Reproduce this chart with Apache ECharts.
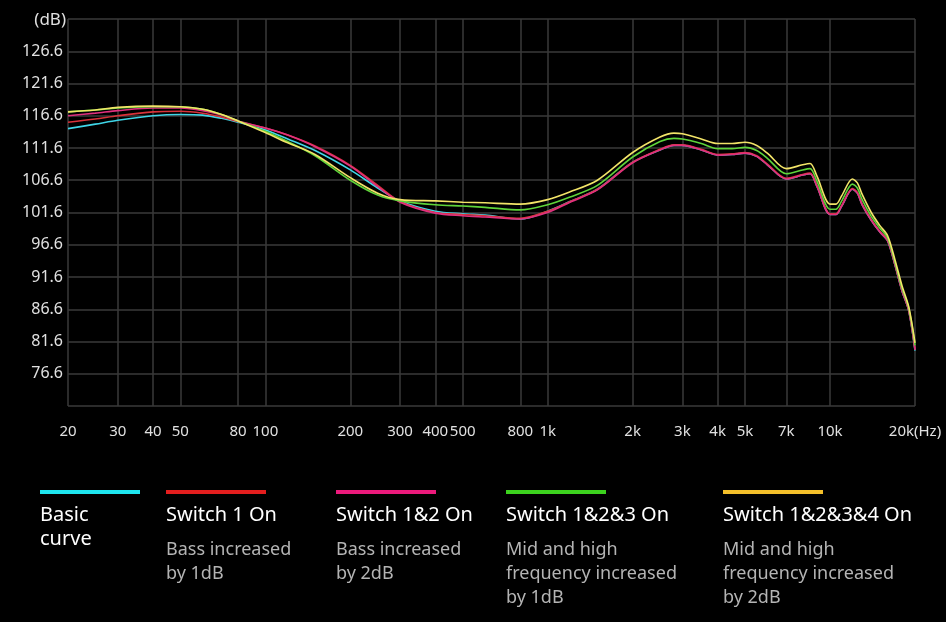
<!DOCTYPE html>
<html><head><meta charset="utf-8">
<script src="https://cdn.jsdelivr.net/npm/echarts@6/dist/echarts.min.js"></script>
<style>html,body{margin:0;padding:0;background:#000;}#c{width:946px;height:622px;}</style>
</head><body><div id="c"></div>
<script>
const freqs = [20,25,30,40,50,60,70,80,100,120,150,200,250,300,400,500,600,800,1000,1200,1500,2000,2500,2800,3000,3500,4000,4500,5000,5500,6000,7000,8000,8500,9000,10000,10500,11000,12000,12500,13000,14000,15000,16000,17000,18000,19000,20000];
const basic = [114.6,115.3,115.9,116.6,116.8,116.7,116.2,115.6,114.4,113.0,111.2,108.2,105.4,103.4,101.8,101.4,101.2,100.6,101.8,103.3,105.2,109.4,111.3,112.0,112.0,111.3,110.5,110.6,110.8,110.3,109.0,106.8,107.4,107.6,105.6,101.3,101.3,102.6,105.2,104.6,102.8,100.4,98.6,97.2,93.4,89.4,86.4,80.2];
const switch1 = [115.6,116.1,116.6,117.2,117.3,117.0,116.4,115.7,114.7,113.6,111.9,108.9,105.8,103.3,101.6,101.3,101.1,100.7,101.8,103.3,105.2,109.4,111.4,112.1,112.1,111.4,110.6,110.7,110.9,110.4,109.1,106.9,107.5,107.7,105.7,101.4,101.4,102.7,105.3,104.7,102.9,100.5,98.7,97.3,93.5,89.5,86.5,80.4];
const switch12 = [116.6,117.0,117.4,117.8,117.8,117.4,116.7,115.8,114.7,113.6,111.8,108.8,105.6,103.2,101.5,101.1,100.9,100.6,101.6,103.2,105.1,109.3,111.3,112.0,112.0,111.3,110.5,110.6,110.8,110.3,109.0,106.8,107.4,107.6,105.6,101.3,101.3,102.6,105.2,104.6,102.8,100.4,98.6,97.2,93.4,89.4,86.4,80.3];
const switch123 = [117.2,117.5,117.8,118.0,118.0,117.6,116.8,115.8,114.2,112.6,110.4,106.6,104.3,103.4,102.8,102.6,102.4,102.0,102.8,104.0,105.8,110.2,112.6,113.1,113.0,112.3,111.5,111.5,111.7,111.2,110.0,107.6,108.2,108.4,106.4,102.1,102.1,103.4,106.0,105.4,103.6,101.0,99.2,97.6,93.8,89.8,86.8,81.0];
const switch1234 = [117.2,117.5,117.9,118.1,118.0,117.6,116.8,115.8,114.0,112.4,110.6,107.0,104.6,103.6,103.4,103.2,103.1,102.9,103.6,104.8,106.6,110.9,113.3,113.9,113.8,113.0,112.3,112.3,112.5,112.0,110.8,108.4,109.0,109.2,107.2,102.9,102.9,104.2,106.8,106.2,104.4,101.6,99.6,98.0,94.2,90.2,87.0,81.4];
const xTicks = [20,30,40,50,80,100,200,300,400,500,800,1000,2000,3000,4000,5000,7000,10000,20000];
const xTickLabels = ['20','30','40','50','80','100','200','300','400','500','800','1k','2k','3k','4k','5k','7k','10k','20k(Hz)'];
const yTickLabels = ['76.6','81.6','86.6','91.6','96.6','101.6','106.6','111.6','116.6','121.6','126.6'];
const seriesNames = ['Basic curve','Switch 1 On','Switch 1&2 On','Switch 1&2&3 On','Switch 1&2&3&4 On'];
const seriesData = [basic, switch1, switch12, switch123, switch1234];
const lineColors = ['#3fd6e8','#d8323a','#e0307e','#5fd43a','#f2e468'];
const legendColors = ['#1ee6f0','#e41e1e','#ec1a7c','#3cd21e','#f4c02a'];
const legendSubs = ['', 'Bass increased\nby 1dB', 'Bass increased\nby 2dB', 'Mid and high\nfrequency increased\nby 1dB', 'Mid and high\nfrequency increased\nby 2dB'];
const legendTitles = ['Basic\ncurve','Switch 1 On','Switch 1&2 On','Switch 1&2&3 On','Switch 1&2&3&4 On'];
const legendX = [40,166,336,506,723];

const font = '"Noto Sans", Roboto, sans-serif';
const chart = echarts.init(document.getElementById('c'));
const graphics = [];
legendTitles.forEach((t,i)=>{
  graphics.push({type:'rect',left:legendX[i],top:490,shape:{width:100,height:4},style:{fill:legendColors[i]}});
  graphics.push({type:'text',left:legendX[i],top:503,style:{text:t,fill:'#fff',font:'20px '+font,lineHeight:24}});
  if(legendSubs[i]) graphics.push({type:'text',left:legendX[i],top:538,style:{text:legendSubs[i],fill:'#b4b4b4',font:'18px '+font,lineHeight:24}});
});
chart.setOption({
  backgroundColor:'#000',
  animation:false,
  grid:{left:68,right:31,top:19,bottom:216},
  xAxis:{type:'log',logBase:10,min:20,max:20000,
    axisLine:{show:false},
    axisTick:{show:false,customValues:xTicks},
    axisLabel:{customValues:xTicks,color:'#e0e0e0',fontSize:15,fontFamily:font,margin:18,
      formatter:v=>{const k=xTicks.findIndex(t=>Math.abs(t-v)<1e-6);return k>=0?xTickLabels[k]:'';}},
    splitLine:{show:true,lineStyle:{color:'#3a3a3a',width:1.5}},
    minorSplitLine:{show:false}
  },
  yAxis:{type:'value',min:71.6,max:131.6,interval:5,name:'(dB)',nameGap:-10,
    nameTextStyle:{color:'#e0e0e0',fontSize:17,fontFamily:font,align:'right',padding:[0,2,0,0]},
    axisLine:{show:false},axisTick:{show:false},
    axisLabel:{color:'#e0e0e0',fontSize:16,fontFamily:font,margin:5,
      formatter:v=>{const s=v.toFixed(1);return yTickLabels.includes(s)?s:'';}},
    splitLine:{lineStyle:{color:'#3a3a3a',width:1.5}}
  },
  graphic:graphics,
  series:seriesData.map((d,i)=>({name:seriesNames[i],type:'line',smooth:0.3,symbol:'none',
    data:freqs.map((f,j)=>[f,d[j]]),lineStyle:{color:lineColors[i],width:1.6},z:2+i}))
});
</script></body></html>
